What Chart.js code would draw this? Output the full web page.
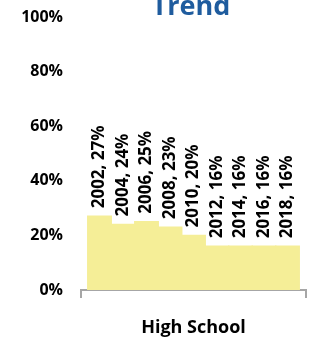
<!DOCTYPE html>
<html>
<head>
<meta charset="utf-8">
<script src="https://cdn.jsdelivr.net/npm/chart.js@4"></script>
<style>
  body { margin: 0; background: #fff; }
  #wrap { width: 320px; height: 339px; position: relative; }
</style>
</head>
<body>
<div id="wrap"><canvas id="chartCanvas"></canvas></div>
<script>
const categories = ['High School'];
const years = ['2002', '2004', '2006', '2008', '2010', '2012', '2014', '2016', '2018'];
const shares = [27, 24, 25, 23, 20, 16, 16, 16, 16];
const yTicks = [0, 20, 40, 60, 80, 100];
const chartTitle = 'Trend';

const FONT = "'Open Sans', sans-serif";
const barColor = '#F5EE97';
const axisColor = '#A6A6A6';

// title sits partly above the canvas, like in the source picture
const titlePlugin = {
  id: 'cutTitle',
  afterDraw(c) {
    const ctx = c.ctx;
    ctx.save();
    ctx.font = `bold 27px ${FONT}`;
    ctx.fillStyle = '#1F5C9E';
    ctx.textAlign = 'center';
    ctx.textBaseline = 'alphabetic';
    ctx.fillText(chartTitle, 191, 15);
    ctx.restore();
  }
};

// vertical "year, value%" labels above each bar
const barLabels = {
  id: 'barLabels',
  afterDatasetsDraw(c) {
    const ctx = c.ctx;
    ctx.save();
    ctx.font = `bold 17px ${FONT}`;
    ctx.fillStyle = '#000';
    ctx.textAlign = 'left';
    ctx.textBaseline = 'middle';
    c.data.datasets.forEach((ds, i) => {
      const bar = c.getDatasetMeta(i).data[0];
      ctx.save();
      ctx.translate(bar.x, bar.y - 8);
      ctx.rotate(-Math.PI / 2);
      ctx.fillText(`${ds.label}, ${ds.data[0]}%`, 0, 0);
      ctx.restore();
    });
    ctx.restore();
  }
};

const chart = new Chart(document.getElementById('chartCanvas'), {
  type: 'bar',
  data: {
    labels: categories,
    datasets: years.map((y, i) => ({
      label: y,
      data: [shares[i]],
      backgroundColor: barColor,
      borderWidth: 0,
      inflateAmount: 0.7,
      categoryPercentage: 0.94,
      barPercentage: 1
    }))
  },
  options: {
    responsive: true,
    maintainAspectRatio: false,
    animation: false,
    layout: { padding: { top: 17, right: 14, left: 0, bottom: 0 } },
    plugins: {
      legend: { display: false },
      tooltip: { enabled: false },
      title: { display: false }
    },
    scales: {
      x: {
        afterFit: s => { s.height = 49; s.paddingLeft = 0; s.paddingRight = 0; },
        grid: {
          display: true,
          drawOnChartArea: false,
          drawTicks: true,
          tickLength: 8,
          offset: true,
          color: axisColor,
          lineWidth: 2
        },
        border: { display: true, color: axisColor, width: 2 },
        ticks: {
          padding: 19,
          color: '#000',
          font: { family: FONT, size: 18, weight: 'bold' }
        }
      },
      y: {
        min: 0,
        max: 100,
        afterFit: s => { s.width = 81; s.paddingTop = 0; s.paddingBottom = 0; },
        afterBuildTicks: s => { s.ticks = yTicks.map(v => ({ value: v })); },
        grid: { display: false, drawTicks: false },
        border: { display: false },
        ticks: {
          padding: 18,
          color: '#000',
          font: { family: FONT, size: 16, weight: 'bold' },
          callback: v => v + '%'
        }
      }
    }
  },
  plugins: [titlePlugin, barLabels]
});
</script>
</body>
</html>
